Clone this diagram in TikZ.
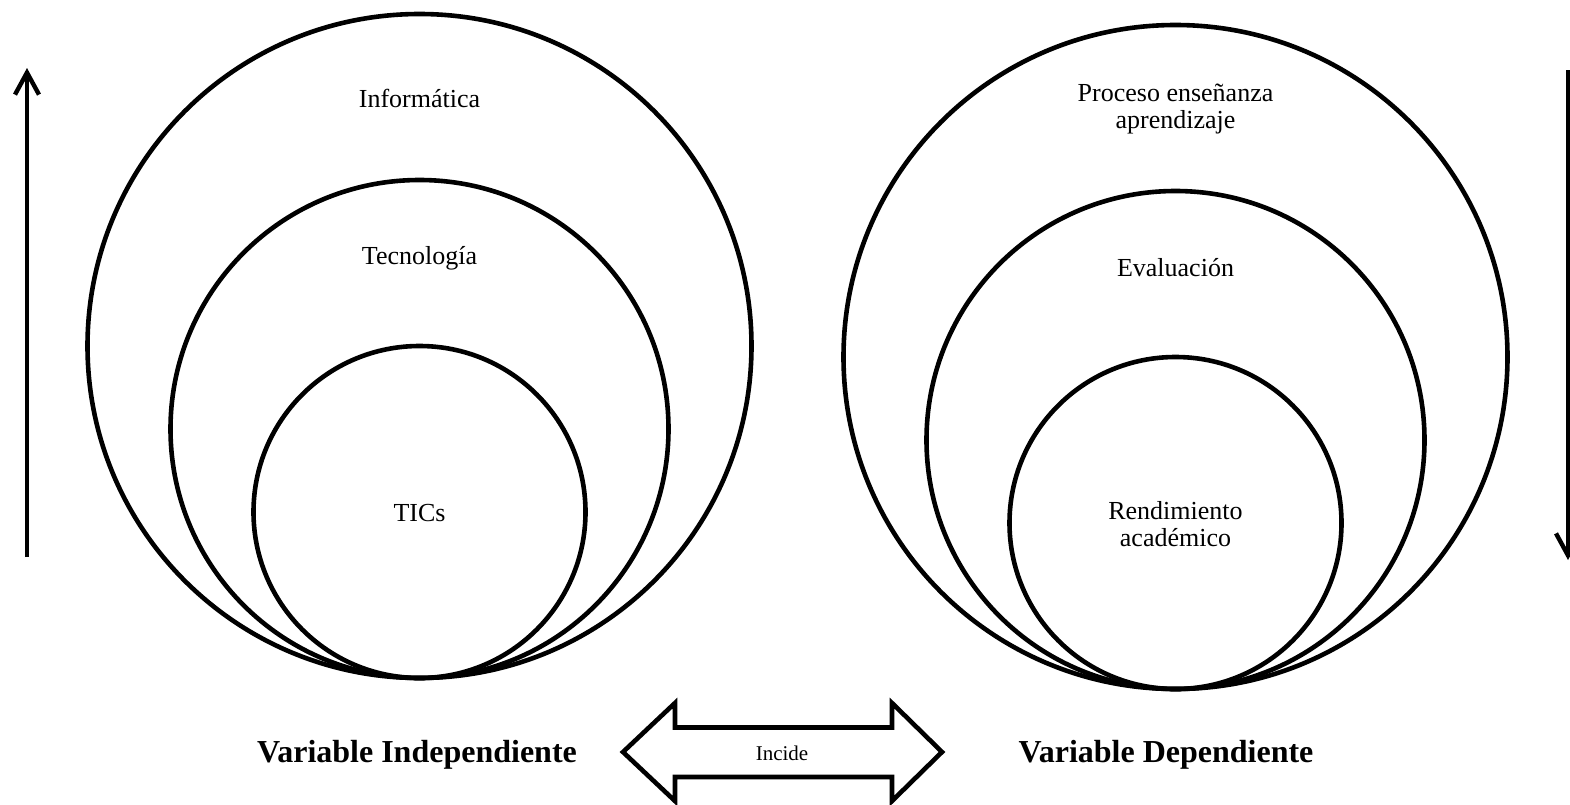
\documentclass[tikz,border=0pt]{standalone}
\usepackage{fontspec}
\setmainfont{Liberation Serif}
\usetikzlibrary{arrows.meta}

\begin{document}
\begin{tikzpicture}[
  x=0.5pt, y=-0.5pt,
  ring/.style={circle, draw, line width=2.3pt, inner sep=0pt},
  lbl/.style={font=\fontsize{13}{13.5}\selectfont, align=center},
  varlbl/.style={font=\fontsize{16}{19}\selectfont\bfseries},
  sidearrow/.style={-{Straight Barb[length=11pt,width=12pt]}, line width=2.2pt},
  bigarrow/.style={draw, line width=2.3pt, line join=miter}
]
  \useasboundingbox (0,0) rectangle (1570,804);

  % Independent variable
  \node[ring, minimum size=332pt] (infor) at (419.5,346) {};
  \node[ring, minimum size=249pt] (tecno) at (419.5,429) {};
  \node[ring, minimum size=166pt] (tics) at (419.5,512) {};
  \node[lbl] (inforlbl) at (419.5,98) {Informática};
  \node[lbl] (tecnolbl) at (419.5,258) {Tecnología};
  \node[lbl] (ticslbl) at (419.5,513) {TICs};

  % Dependent variable
  \node[ring, minimum size=332pt] (proceso) at (1175.5,357) {};
  \node[ring, minimum size=249pt] (eval) at (1175.5,440) {};
  \node[ring, minimum size=166pt] (rend) at (1175.5,523) {};
  \node[lbl] (procesolbl) at (1175.5,109) {Proceso enseñanza\\aprendizaje};
  \node[lbl] (evallbl) at (1175.5,268) {Evaluación};
  \node[lbl] (rendlbl) at (1175.5,524) {Rendimiento\\académico};

  % Side arrows
  \coordinate (upbot) at (27,557);
  \coordinate (uptop) at (27,68);
  \coordinate (downtop) at (1568,70);
  \coordinate (downbot) at (1568,560);
  \draw[sidearrow] (upbot) -- (uptop);
  \draw[sidearrow] (downtop) -- (downbot);

  % Bottom labels
  \node[varlbl] (indep) at (417,755) {Variable Independiente};
  \node[varlbl] (dep) at (1166,755) {Variable Dependiente};

  \draw[bigarrow] (623,752) -- (675,703) -- (675,727.5) -- (892,727.5) -- (892,703)
    -- (942,752) -- (892,801) -- (892,777) -- (675,777) -- (675,801) -- cycle;
  \node[font=\fontsize{10.5}{12}\selectfont] (incide) at (782,753) {Incide};
\end{tikzpicture}
\end{document}
